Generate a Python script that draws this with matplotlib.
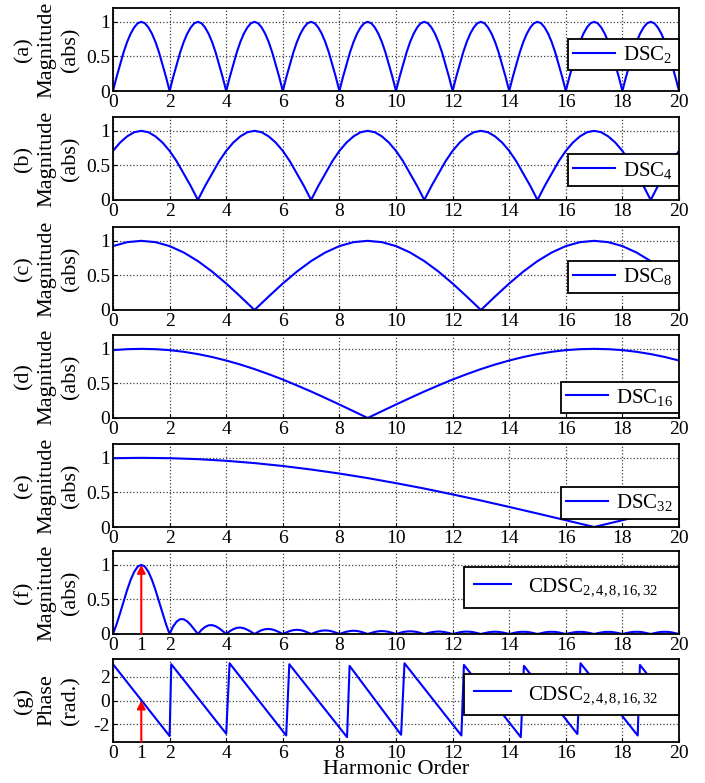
import numpy as np
import matplotlib
matplotlib.use('Agg')
import matplotlib.pyplot as plt

plt.rcParams['font.family'] = 'Liberation Serif'
plt.rcParams['mathtext.fontset'] = 'custom'
plt.rcParams['mathtext.rm'] = 'Liberation Serif'
plt.rcParams['mathtext.it'] = 'Liberation Serif:italic'
plt.rcParams['axes.unicode_minus'] = False

# harmonic order sample grids
order_e = np.arange(0, 20.001, 0.125)
order_q = np.arange(0, 20.001, 0.25)
order_h = np.arange(0, 20.001, 0.5)
order_1 = np.arange(0, 21, 1)

# magnitudes (abs)
dsc2 = [0.00, 0.20, 0.38, 0.56, 0.71, 0.83, 0.92, 0.98, 1.00, 0.98, 0.92, 0.83, 0.71, 0.56, 0.38, 0.20,
        0.00, 0.20, 0.38, 0.56, 0.71, 0.83, 0.92, 0.98, 1.00, 0.98, 0.92, 0.83, 0.71, 0.56, 0.38, 0.20,
        0.00, 0.20, 0.38, 0.56, 0.71, 0.83, 0.92, 0.98, 1.00, 0.98, 0.92, 0.83, 0.71, 0.56, 0.38, 0.20,
        0.00, 0.20, 0.38, 0.56, 0.71, 0.83, 0.92, 0.98, 1.00, 0.98, 0.92, 0.83, 0.71, 0.56, 0.38, 0.20,
        0.00, 0.20, 0.38, 0.56, 0.71, 0.83, 0.92, 0.98, 1.00, 0.98, 0.92, 0.83, 0.71, 0.56, 0.38, 0.20,
        0.00, 0.20, 0.38, 0.56, 0.71, 0.83, 0.92, 0.98, 1.00, 0.98, 0.92, 0.83, 0.71, 0.56, 0.38, 0.20,
        0.00, 0.20, 0.38, 0.56, 0.71, 0.83, 0.92, 0.98, 1.00, 0.98, 0.92, 0.83, 0.71, 0.56, 0.38, 0.20,
        0.00, 0.20, 0.38, 0.56, 0.71, 0.83, 0.92, 0.98, 1.00, 0.98, 0.92, 0.83, 0.71, 0.56, 0.38, 0.20,
        0.00, 0.20, 0.38, 0.56, 0.71, 0.83, 0.92, 0.98, 1.00, 0.98, 0.92, 0.83, 0.71, 0.56, 0.38, 0.20,
        0.00, 0.20, 0.38, 0.56, 0.71, 0.83, 0.92, 0.98, 1.00, 0.98, 0.92, 0.83, 0.71, 0.56, 0.38, 0.20,
        0.00]

dsc4 = [0.71, 0.83, 0.92, 0.98, 1.00, 0.98, 0.92, 0.83,
        0.71, 0.56, 0.38, 0.20, 0.00, 0.20, 0.38, 0.56,
        0.71, 0.83, 0.92, 0.98, 1.00, 0.98, 0.92, 0.83,
        0.71, 0.56, 0.38, 0.20, 0.00, 0.20, 0.38, 0.56,
        0.71, 0.83, 0.92, 0.98, 1.00, 0.98, 0.92, 0.83,
        0.71, 0.56, 0.38, 0.20, 0.00, 0.20, 0.38, 0.56,
        0.71, 0.83, 0.92, 0.98, 1.00, 0.98, 0.92, 0.83,
        0.71, 0.56, 0.38, 0.20, 0.00, 0.20, 0.38, 0.56,
        0.71, 0.83, 0.92, 0.98, 1.00, 0.98, 0.92, 0.83,
        0.71, 0.56, 0.38, 0.20, 0.00, 0.20, 0.38, 0.56,
        0.71]

dsc8 = [0.924, 0.981, 1.000, 0.981, 0.924, 0.831, 0.707, 0.556,
        0.383, 0.195, 0.000, 0.195, 0.383, 0.556, 0.707, 0.831,
        0.924, 0.981, 1.000, 0.981, 0.924, 0.831, 0.707, 0.556,
        0.383, 0.195, 0.000, 0.195, 0.383, 0.556, 0.707, 0.831,
        0.924, 0.981, 1.000, 0.981, 0.924, 0.831, 0.707, 0.556,
        0.383]

dsc16 = [0.981, 0.995, 1.000, 0.995, 0.981, 0.957, 0.924, 0.882,
         0.831, 0.773, 0.707, 0.634, 0.556, 0.471, 0.383, 0.290,
         0.195, 0.098, 0.000, 0.098, 0.195, 0.290, 0.383, 0.471,
         0.556, 0.634, 0.707, 0.773, 0.831, 0.882, 0.924, 0.957,
         0.981, 0.995, 1.000, 0.995, 0.981, 0.957, 0.924, 0.882,
         0.831]

dsc32 = [0.995, 1.000, 0.995, 0.981, 0.957, 0.924, 0.882, 0.831,
         0.773, 0.707, 0.634, 0.556, 0.471, 0.383, 0.290, 0.195,
         0.098, 0.000, 0.098, 0.195, 0.290]

# one row per harmonic order (0 -> 19), eighth-order steps
cdsc_mag = [0.000, 0.139, 0.300, 0.471, 0.637, 0.784, 0.900, 0.975,
            1.000, 0.975, 0.900, 0.784, 0.637, 0.471, 0.300, 0.139,
            0.000, 0.109, 0.180, 0.215, 0.213, 0.182, 0.129, 0.065,
            0.000, 0.058, 0.101, 0.125, 0.129, 0.113, 0.083, 0.043,
            0.000, 0.040, 0.070, 0.089, 0.093, 0.083, 0.061, 0.032,
            0.000, 0.030, 0.055, 0.069, 0.073, 0.066, 0.049, 0.026,
            0.000, 0.023, 0.043, 0.056, 0.061, 0.056, 0.043, 0.023,
            0.000, 0.020, 0.037, 0.048, 0.052, 0.048, 0.037, 0.020,
            0.000, 0.018, 0.033, 0.043, 0.047, 0.043, 0.033, 0.018,
            0.000, 0.016, 0.030, 0.039, 0.042, 0.039, 0.030, 0.016,
            0.000, 0.015, 0.028, 0.036, 0.039, 0.036, 0.028, 0.015,
            0.000, 0.014, 0.025, 0.033, 0.036, 0.033, 0.025, 0.014,
            0.000, 0.013, 0.025, 0.032, 0.035, 0.032, 0.025, 0.013,
            0.000, 0.013, 0.023, 0.030, 0.033, 0.030, 0.023, 0.013,
            0.000, 0.012, 0.023, 0.030, 0.032, 0.030, 0.023, 0.012,
            0.000, 0.012, 0.023, 0.030, 0.032, 0.030, 0.023, 0.012,
            0.000, 0.012, 0.022, 0.029, 0.031, 0.029, 0.022, 0.012,
            0.000, 0.012, 0.022, 0.029, 0.031, 0.029, 0.022, 0.012,
            0.000, 0.012, 0.023, 0.030, 0.032, 0.030, 0.023, 0.012,
            0.000, 0.012, 0.023, 0.030, 0.032, 0.030, 0.023, 0.012,
            0.000]

# phase (rad.) sawtooth corners
phase_order = [0.00, 2.00, 2.06, 4.00, 4.12, 6.12, 6.23, 8.27, 8.36, 10.18,
               10.30, 12.31, 12.40, 14.41, 14.52, 16.41, 16.52, 18.54, 18.62, 20.00]
phase_rad = [3.06, -3.00, 3.06, -2.80, 3.14, -2.95, 3.06, -3.09, 2.92, -2.89,
             3.14, -2.95, 3.00, -3.09, 2.92, -2.83, 3.14, -2.95, 3.00, -1.19]

fund_order = 1
fund_mag = 1.0
fund_phase = 0.0

letters = ['a', 'b', 'c', 'd', 'e', 'f', 'g']
names = ['DSC$_{2}$', 'DSC$_{4}$', 'DSC$_{8}$', 'DSC$_{16}$', 'DSC$_{32}$',
         'CDSC$_{2,4,8,16,32}$', 'CDSC$_{2,4,8,16,32}$']
xs = [order_e, order_q, order_h, order_h, order_1, order_e, phase_order]
ys = [dsc2, dsc4, dsc8, dsc16, dsc32, cdsc_mag, phase_rad]
leg_y = [0.44, 0.36, 0.40, 0.25, 0.29, 0.56, 0.57]
bottoms_px = [91, 200, 310, 418, 527, 634, 742]

fig = plt.figure(figsize=(7.05, 7.83), dpi=100)

for i in range(7):
    ax = fig.add_axes([113 / 705, 1 - bottoms_px[i] / 783, 566 / 705, 83 / 783])
    line, = ax.plot(xs[i], ys[i], color='#0000ff', lw=1.5)
    ax.set_xlim(0, 20)
    ax.set_xticks(range(0, 21, 2))
    if i < 6:
        ax.set_ylim(0, 1.2)
        ax.set_yticks([0, 0.5, 1])
        ax.set_yticklabels(['0', '0.5', '1'])
        ax.set_ylabel('(' + letters[i] + ')\nMagnitude\n(abs)', fontsize=16, linespacing=1.3)
    else:
        ax.set_ylim(-3.5, 3.5)
        ax.set_yticks([-2, 0, 2])
        ax.set_ylabel('(' + letters[i] + ')\nPhase\n(rad.)', fontsize=16, linespacing=1.3)
    ax.yaxis.set_label_coords(-0.058, 0.5)
    ax.grid(True, which='major', color='0.25', linestyle=':', linewidth=0.9)
    ax.tick_params(direction='in', length=3, labelsize=14, pad=2)
    for s in ax.spines.values():
        s.set_linewidth(1.3)

    if i >= 5:
        ax.set_xticks([fund_order], minor=True)
        ax.set_xticklabels(['1'], minor=True)
        ax.tick_params(which='minor', direction='in', length=3, labelsize=14, pad=2)
        if i == 5:
            ax.annotate('', xy=(fund_order, fund_mag), xytext=(fund_order, 0),
                        arrowprops=dict(arrowstyle='-|>', color='red', lw=1.5,
                                        mutation_scale=12, shrinkA=0, shrinkB=0))
        else:
            ax.annotate('', xy=(fund_order, fund_phase), xytext=(fund_order, -3.5),
                        arrowprops=dict(arrowstyle='-|>', color='red', lw=1.5,
                                        mutation_scale=12, shrinkA=0, shrinkB=0))
        leg = ax.legend([line], [names[i] + '   '], loc='center right',
                        bbox_to_anchor=(1.0, leg_y[i]), borderaxespad=0,
                        fancybox=False, edgecolor='k', framealpha=1, fontsize=15,
                        handlelength=1.8, handletextpad=0.8, borderpad=0.45)
    else:
        leg = ax.legend([line], [names[i] + ' '], loc='center right',
                        bbox_to_anchor=(1.0, leg_y[i]), borderaxespad=0,
                        fancybox=False, edgecolor='k', framealpha=1, fontsize=15,
                        handlelength=2.0, handletextpad=0.4, borderpad=0.25)
    leg.get_frame().set_linewidth(1.3)

    if i == 6:
        ax.set_xlabel('Harmonic Order', fontsize=16, labelpad=-1)

fig.savefig('out.png', dpi=100)
